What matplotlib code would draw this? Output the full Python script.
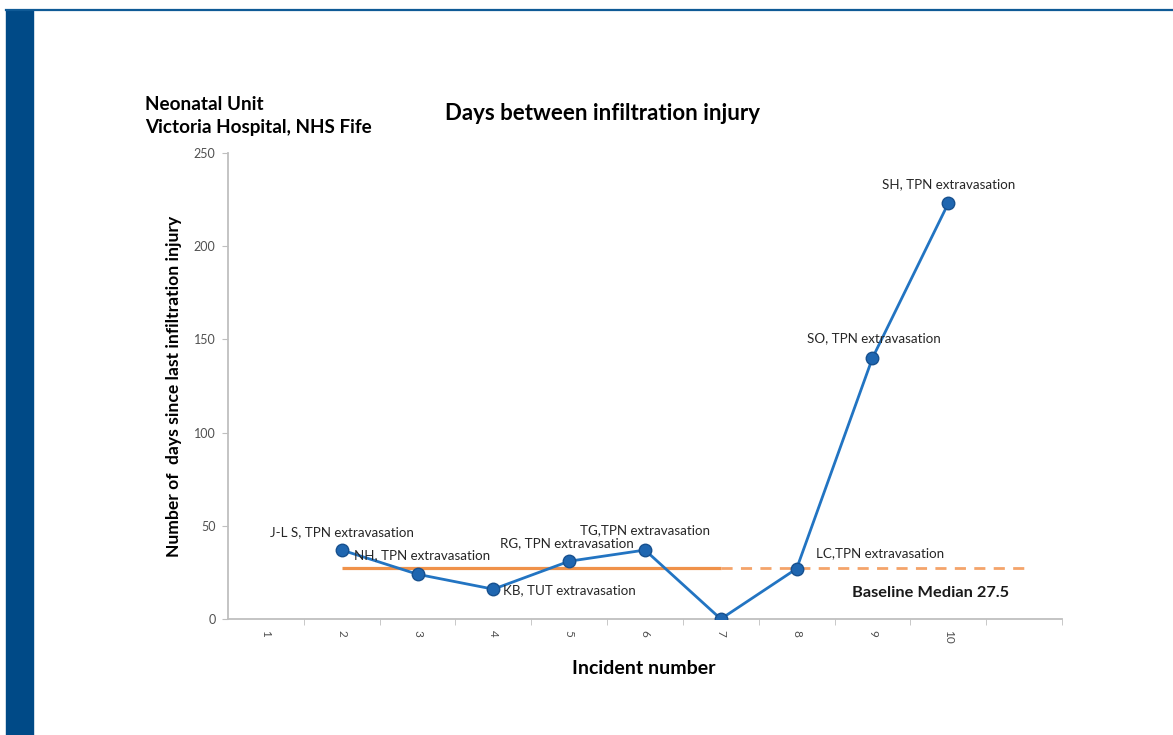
import numpy as np
import matplotlib
matplotlib.use("Agg")
import matplotlib.pyplot as plt
from matplotlib.patches import Rectangle
from matplotlib.lines import Line2D

plt.rcParams['font.family'] = ['Lato', 'DejaVu Sans']

# incident numbers shown on the category axis (11th slot is empty)
incidents = ['1', '2', '3', '4', '5', '6', '7', '8', '9', '10', '']
# days since last injury for incidents 2..10
incident_no = [2, 3, 4, 5, 6, 7, 8, 9, 10]
days = [37, 24, 16, 31, 37, 0, 27, 140, 223]
labels = ['J-L S, TPN extravasation', 'NH, TPN extravasation', 'KB, TUT extravasation',
          'RG, TPN extravasation', 'TG,TPN extravasation', '',
          'LC,TPN extravasation', 'SO, TPN extravasation', 'SH, TPN extravasation']
median = 27.5
median_solid = [2, 7]
median_dashed = [7, 11]

fig = plt.figure(figsize=(11.73, 7.35), dpi=100)

# slide decoration: left blue strip and thin top rule
fig.patches.append(Rectangle((6/1173, 0), 27/1173, 1 - 10/735, transform=fig.transFigure,
                             color='#004A87', zorder=0))
fig.lines.append(Line2D([6/1173, 1], [1 - 10/735, 1 - 10/735], transform=fig.transFigure,
                        color='#0F5A96', lw=1.6))

ax = fig.add_axes([228/1173, 1 - 619/735, (1062 - 228)/1173, (619 - 153)/735])

ax.plot(median_solid, [median, median], color='#F0924A', lw=2.3, solid_capstyle='butt', zorder=2)
ax.plot(median_dashed, [median, median], color='#F4A46A', lw=2.0, dashes=(4, 3), zorder=2)

ax.plot(incident_no, days, color='#2274C2', lw=2.0, marker='o', markersize=9,
        markerfacecolor='#1F66B0', markeredgecolor='#17508E', markeredgewidth=1, zorder=3)

# point labels (offsets in points)
offsets = [(0, 13), (3, 14), (7, -1), (-2, 13), (0, 14), (0, 0), (14, 11), (1, 14), (0, 14)]
aligns = ['center', 'center', 'left', 'center', 'center', 'center', 'left', 'center', 'center']
for x, y, t, off, ha in zip(incident_no, days, labels, offsets, aligns):
    if t:
        ax.annotate(t, (x, y), xytext=off, textcoords='offset points', ha=ha, va='center',
                    fontsize=9.6, color='#262626')

ax.text(10.8, 14, 'Baseline Median 27.5', ha='right', va='center', fontsize=11.8,
        fontweight='bold', color='#1a1a1a')

ax.set_xlim(0.5, 11.5)
ax.set_ylim(0, 250)
ax.set_xticks(range(1, 12))
ax.set_xticklabels(incidents, rotation=270, fontsize=8.5, color='#505050')
ax.set_xticks(np.arange(1.5, 11.6, 1), minor=True)
ax.tick_params(axis='x', which='major', length=0, pad=8)
ax.tick_params(axis='x', which='minor', length=4, color='#BFBFBF', direction='out')
ax.set_yticks(np.arange(0, 251, 50))
ax.tick_params(axis='y', labelsize=9, labelcolor='#505050', length=4, color='#BFBFBF', pad=5)

for s in ['top', 'right']:
    ax.spines[s].set_visible(False)
for s in ['left', 'bottom']:
    ax.spines[s].set_color('#BFBFBF')
    ax.spines[s].set_linewidth(1.3)

ax.set_xlabel('Incident number', fontsize=14, fontweight='bold')
ax.xaxis.set_label_coords(0.499, -0.088)
ax.set_ylabel('Number of  days since last infiltration injury', fontsize=12.6,
              fontweight='bold')
ax.yaxis.set_label_coords(-0.055, 0.5)

fig.text(445/1173, 1 - 113/735, 'Days between infiltration injury', fontsize=16,
         fontweight='bold', va='center', ha='left')
fig.text(145/1173, 1 - 105/735, 'Neonatal Unit', fontsize=13.6, fontweight='bold',
         va='center', ha='left')
fig.text(145/1173, 1 - 128/735, 'Victoria Hospital, NHS Fife', fontsize=13.6,
         fontweight='bold', va='center', ha='left')

fig.savefig('out.png', dpi=100)
